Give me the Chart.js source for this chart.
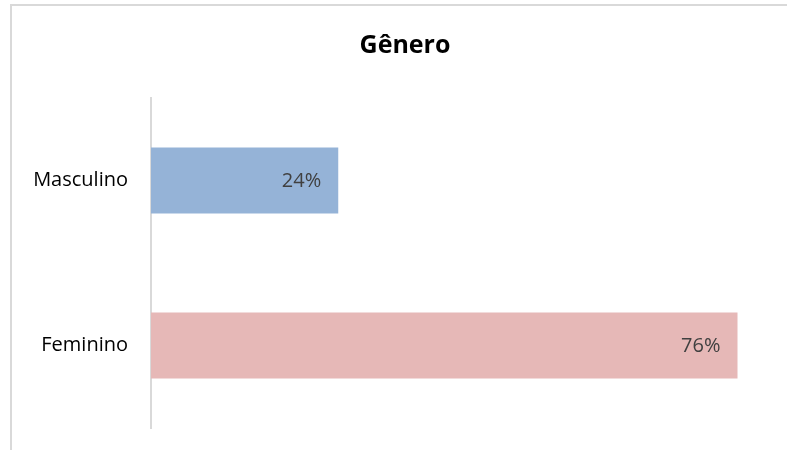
<!DOCTYPE html>
<html>
<head>
<meta charset="utf-8">
<script src="https://cdn.jsdelivr.net/npm/chart.js@4.4.0/dist/chart.umd.min.js"></script>
<style>
  html, body { margin: 0; padding: 0; background: #fff; }
  #wrap { width: 787px; height: 450px; position: relative; }
</style>
</head>
<body>
<div id="wrap"><canvas id="myChart" width="787" height="450"></canvas></div>
<script>
const chartTitle = 'Gênero';
const categories = ['Masculino', 'Feminino'];
const shares = [0.242, 0.758];
const barColors = ['#95B3D7', '#E6B8B7'];

const fontFamily = '"Open Sans", "Noto Sans", sans-serif';

// frame, title and value labels drawn by hand
const decorations = {
    id: 'decorations',
    beforeDraw: function(chart) {
        const ctx = chart.ctx;
        ctx.save();
        ctx.strokeStyle = '#d9d9d9';
        ctx.lineWidth = 2;
        ctx.beginPath();
        ctx.moveTo(11, 460);
        ctx.lineTo(11, 5);
        ctx.lineTo(800, 5);
        ctx.stroke();
        ctx.restore();
    },
    afterDatasetsDraw: function(chart) {
        const ctx = chart.ctx;
        ctx.save();
        ctx.fillStyle = '#000';
        ctx.font = 'bold 25px ' + fontFamily;
        ctx.textAlign = 'center';
        ctx.textBaseline = 'middle';
        ctx.fillText(chartTitle, 405, 46);

        ctx.fillStyle = '#404040';
        ctx.font = '20px ' + fontFamily;
        ctx.textAlign = 'right';
        chart.getDatasetMeta(0).data.forEach(function(bar, i) {
            ctx.fillText(Math.round(shares[i] * 100) + '%', bar.x - 17, bar.y + 1);
        });
        ctx.restore();
    }
};

const ctx = document.getElementById('myChart').getContext('2d');
const chart = new Chart(ctx, {
    type: 'bar',
    data: {
        labels: categories,
        datasets: [{
            data: shares,
            backgroundColor: barColors,
            barPercentage: 0.4,
            categoryPercentage: 1
        }]
    },
    options: {
        indexAxis: 'y',
        responsive: false,
        animation: false,
        layout: { padding: { top: 98, bottom: 22, right: 17, left: 0 } },
        plugins: {
            legend: { display: false },
            tooltip: { enabled: false },
            title: { display: false }
        },
        scales: {
            x: { display: false, min: 0, max: 0.8 },
            y: {
                afterFit: function(scale) {
                    scale.width = 151;
                    scale.paddingTop = 0;
                    scale.paddingBottom = 0;
                },
                grid: { display: false, drawTicks: false },
                border: { display: true, color: '#d9d9d9', width: 2 },
                ticks: {
                    padding: 23,
                    color: '#000',
                    font: { family: fontFamily, size: 20 }
                }
            }
        }
    },
    plugins: [decorations]
});
</script>
</body>
</html>
